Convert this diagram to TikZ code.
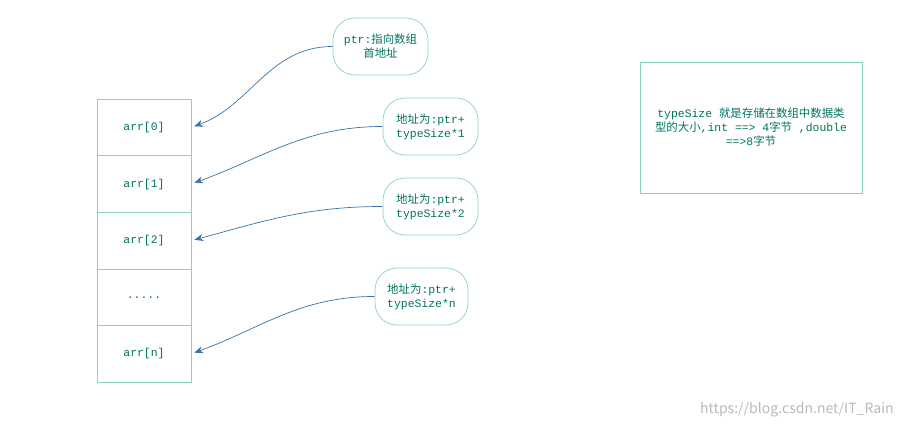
\documentclass[tikz,border=0pt]{standalone}
\usepackage{fontspec}
\setmainfont{Liberation Mono}
\newfontfamily\cjk{Noto Sans CJK SC}
\usetikzlibrary{positioning,arrows.meta}
\definecolor{edgegreen}{HTML}{8BD3BA}
\definecolor{txtgreen}{HTML}{00735F}
\definecolor{linkblue}{HTML}{3A72A8}
\tikzset{
  cell/.style={draw=edgegreen, minimum width=94\pxu, minimum height=56.6\pxu, inner sep=0pt, outer sep=0pt, text=txtgreen},
  bubble/.style={draw=edgegreen, rounded corners=22\pxu, minimum width=95\pxu, minimum height=57\pxu, align=center, text=txtgreen, inner sep=1pt},
  link/.style={draw=linkblue, -{Stealth[length=5pt,width=4pt]}, shorten >=2pt}
}
\newlength\pxu
\setlength\pxu{0.02cm}
\begin{document}
\begin{tikzpicture}[x=0.02cm, y=-0.02cm, font=\fontsize{6.5}{8}\selectfont]
    \useasboundingbox (0,0) rectangle (906,428);

    % array cells
    \node[cell] (r0) at (144,127.5) {arr[0]};
    \node[cell, below=0pt of r0] (r1) {arr[1]};
    \node[cell, below=0pt of r1] (r2) {arr[2]};
    \node[cell, below=0pt of r2] (r3) {.....};
    \node[cell, below=0pt of r3] (rn) {arr[n]};

    % address bubbles
    \node[bubble] (p0) at (380.5,46.5) {ptr:{\cjk 指向数组}\\{\cjk 首地址}};
    \node[bubble] (p1) at (430.5,126.5) {{\cjk 地址为}:ptr+\\typeSize*1};
    \node[bubble] (p2) at (430.5,206.5) {{\cjk 地址为}:ptr+\\typeSize*2};
    \node[bubble, minimum width=93\pxu] (pn) at (421.5,296.5) {{\cjk 地址为}:ptr+\\typeSize*n};

    % links
    \draw[link] (p0.west) to[out=180, in=20] (r0.east);
    \draw[link] (p1.west) to[out=180, in=20] (r1.east);
    \draw[link] (p2.west) to[out=180, in=15] (r2.east);
    \draw[link] (pn.west) to[out=180, in=20] (rn.east);

    % note
    \node[draw=edgegreen, minimum width=222\pxu, minimum height=131\pxu, align=center, text=txtgreen, inner sep=0pt] (note) at (751,127.5)
        {typeSize {\cjk 就是存储在数组中数据类}\\{\cjk 型的大小},int ==> 4{\cjk 字节} ,double\\==>8{\cjk 字节}};

    % watermark
    \node[text=gray!55, font=\fontsize{8}{9}\selectfont\cjk, anchor=east] (mark) at (900,410) {https://blog.csdn.net/IT\_Rain};
\end{tikzpicture}
\end{document}
